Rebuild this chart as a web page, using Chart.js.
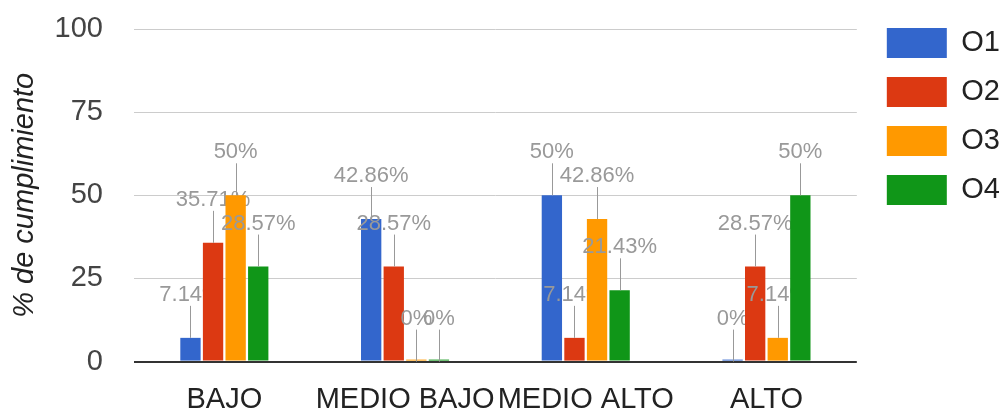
<!DOCTYPE html>
<html>
<head>
<meta charset="utf-8">
<script src="https://cdn.jsdelivr.net/npm/chart.js@4.4.0/dist/chart.umd.min.js"></script>
<style>
  html,body{margin:0;padding:0;background:#fff;}
  #chart{display:block;}
</style>
</head>
<body>
<canvas id="chart" width="1001" height="410"></canvas>
<script>
const categories=['BAJO','MEDIO BAJO','MEDIO ALTO','ALTO'];
const seriesNames=['O1','O2','O3','O4'];
const o1=[7.14,42.86,50,0];
const o2=[35.71,28.57,7.14,28.57];
const o3=[50,0,42.86,7.14];
const o4=[28.57,0,21.43,50];
const colors=['#3366cc','#dc3912','#ff9900','#109618'];

const font='"Liberation Sans", Arial, sans-serif';

// draw series one by one, each followed by its annotations (google-like z order)
const annotations={
    id:'annotations',
    beforeDatasetsDraw(chart){
        const ctx=chart.ctx;
        const yScale=chart.scales.y;
        chart.data.datasets.forEach((ds,i)=>{
            const meta=chart.getDatasetMeta(i);
            meta.controller.draw();
            ctx.save();
            ctx.strokeStyle='#999';
            ctx.fillStyle='#999';
            ctx.lineWidth=1;
            ctx.font='22px '+font;
            ctx.textAlign='center';
            ctx.textBaseline='middle';
            meta.data.forEach((bar,j)=>{
                const top=yScale.getPixelForValue(ds.data[j]);
                const x=Math.round(bar.x)+0.5;
                ctx.beginPath();
                ctx.moveTo(x,top);
                ctx.lineTo(x,top-32);
                ctx.stroke();
                ctx.fillText(ds.data[j]+'%',bar.x,top-43);
            });
            ctx.restore();
        });
        return false;
    }
};

const legendNudge={
    id:'legendNudge',
    afterLayout(chart){
        chart.legend.left+=11;
        chart.legend.right+=11;
    }
};

const series=[o1,o2,o3,o4];
const myChart=new Chart(document.getElementById('chart').getContext('2d'),{
    type:'bar',
    data:{
        labels:categories,
        datasets:series.map((d,i)=>({
            label:seriesNames[i],
            data:d,
            backgroundColor:colors[i],
            borderWidth:0,
            minBarLength:2,
            categoryPercentage:0.5,
            barPercentage:0.9
        }))
    },
    options:{
        responsive:false,
        animation:false,
        devicePixelRatio:1,
        layout:{padding:{top:9,right:2,left:0,bottom:0}},
        plugins:{
            tooltip:{enabled:false},
            legend:{
                position:'right',
                align:'start',
                labels:{
                    boxWidth:60,
                    boxHeight:30,
                    padding:19,
                    color:'#222',
                    font:{family:font,size:29}
                }
            }
        },
        scales:{
            x:{
                grid:{display:false},
                border:{display:false},
                ticks:{
                    color:'#222',
                    font:{family:font,size:29},
                    padding:13,
                    autoSkip:false,
                    maxRotation:0,
                    minRotation:0
                },
                afterFit:(scale)=>{scale.height=47;}
            },
            y:{
                min:0,
                max:100,
                border:{display:false},
                grid:{
                    drawTicks:false,
                    color:(c)=>c.tick && c.tick.value===0?'#333':'#ccc',
                    lineWidth:(c)=>c.tick && c.tick.value===0?2:1
                },
                ticks:{
                    stepSize:25,
                    color:'#444',
                    font:{family:font,size:29},
                    padding:31
                },
                title:{
                    display:true,
                    text:'% de cumplimiento',
                    color:'#222',
                    font:{family:font,size:29,style:'italic'},
                    padding:{top:8,bottom:0}
                },
                afterFit:(scale)=>{scale.width=134;scale.paddingTop=29;}
            }
        }
    },
    plugins:[annotations,legendNudge]
});
</script>
</body>
</html>
